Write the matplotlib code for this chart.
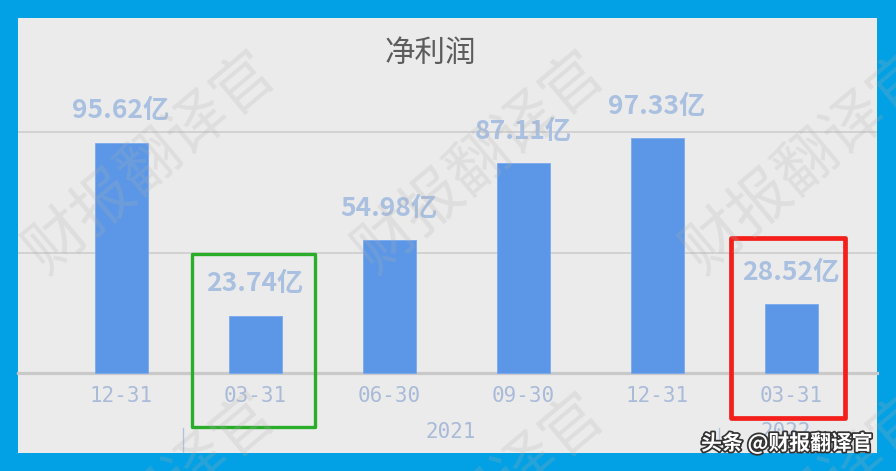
import matplotlib
matplotlib.use("Agg")
import matplotlib.pyplot as plt
import matplotlib.patheffects as pe
from matplotlib.patches import Rectangle

# ---- data ----
title = "净利润"
categories = ["12-31", "03-31", "06-30", "09-30", "12-31", "03-31"]
values = [95.62, 23.74, 54.98, 87.11, 97.33, 28.52]
value_labels = ["95.62亿", "23.74亿", "54.98亿", "87.11亿", "97.33亿", "28.52亿"]
years = ["2021", "2022"]
year_spans = [(1, 4), (5, 5)]      # category index ranges per year
group_breaks = [0.46, 4.46]
yticks = [0, 50, 100]
watermark = "财报翻译官"
credit = "头条 @财报翻译官"

W, H = 896, 471
fig = plt.figure(figsize=(W / 100, H / 100), dpi=100)
fig.patch.set_facecolor("#02a0e4")

# panel in pixel coords
left_px, right_px, top_px, bot_px = 18, 877, 18, 453
ax = fig.add_axes([left_px / W, (H - bot_px) / H,
                   (right_px - left_px) / W, (bot_px - top_px) / H])
ax.set_facecolor("#ebebeb")

c0, step = 121, 134          # bar centre px, spacing
base_px, ppu = 373, 2.41     # baseline px, px per unit
ax.set_xlim((left_px - c0) / step, (right_px - c0) / step)
ax.set_ylim(-(bot_px - base_px) / ppu, (base_px - top_px) / ppu)

for s in ["top", "left", "right"]:
    ax.spines[s].set_visible(False)
ax.spines["bottom"].set_position(("data", 0))
ax.spines["bottom"].set_color("#c9c9c9")
ax.spines["bottom"].set_linewidth(2.3)

ax.set_yticks(yticks)
ax.set_yticklabels([])
ax.tick_params(axis="y", length=0)
ax.grid(axis="y", color="#cdcdcd", linewidth=1.2)
ax.set_axisbelow(True)

xs = list(range(len(categories)))
ax.bar(xs, values, width=53 / step, color="#5b97e6", edgecolor="#7aaaf0",
       linewidth=0.6, zorder=3)

ax.set_xticks(xs)
ax.set_xticklabels(categories, fontfamily="DejaVu Sans Mono", fontsize=15,
                   color="#a9bbd8")
ax.tick_params(axis="x", length=0, pad=9)

lab_font = ["Noto Sans CJK SC", "DejaVu Sans"]
for x, v, t in zip(xs, values, value_labels):
    ax.annotate(t, (x, v), xytext=(0, 17.5), textcoords="offset points",
                ha="center", va="baseline", fontsize=19, fontweight="bold",
                color="#a9c0e0", family=lab_font, zorder=4)

# year labels
for yr, (a, b) in zip(years, year_spans):
    ax.text((a + b) / 2 - 0.04, -(432 - base_px) / ppu, yr, ha="center",
            va="center", fontfamily="DejaVu Sans Mono", fontsize=15,
            color="#a9bbd8")
for g in group_breaks:
    ax.plot([g, g], [-(428 - base_px) / ppu, -(452 - base_px) / ppu],
            color="#b4c3dc", linewidth=1.0, clip_on=False)

# title
fig.text(430 / W, 1 - 53 / H, title, ha="center", va="center", fontsize=22,
         color="#5c5c5c", family=lab_font)

# highlight boxes (pixel coords)
def box(x0, y0, x1, y1, color, lw):
    r = Rectangle((x0 / W, 1 - y1 / H), (x1 - x0) / W, (y1 - y0) / H,
                  transform=fig.transFigure, fill=False, edgecolor=color,
                  linewidth=lw, joinstyle="round", zorder=10)
    fig.add_artist(r)

box(192, 254, 315, 427, "#2aae2a", 2.4)
box(731, 238, 845, 418, "#f41f1a", 3.4)

# watermark
for cx in [152, 481, 809]:
    for cy in [163, 505]:
        fig.text(cx / W, 1 - cy / H, watermark, rotation=40, ha="center",
                 va="center", fontsize=44, color="#b0b0b0", alpha=0.22,
                 family=lab_font, zorder=20, clip_on=True)

# credit
fig.text(787 / W, 1 - 443 / H, credit, ha="center", va="center", fontsize=15,
         color="white", family=lab_font, fontweight="bold", zorder=30,
         path_effects=[pe.withStroke(linewidth=2.5, foreground="#333333")])

fig.savefig("out.png", dpi=100, facecolor=fig.get_facecolor())
